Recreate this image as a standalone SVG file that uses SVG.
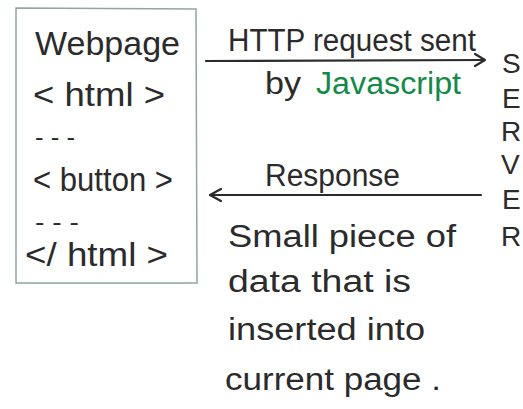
<svg xmlns="http://www.w3.org/2000/svg" width="523" height="409" viewBox="0 0 523 409">
  <defs>
    <style>
      .t { font-family: "Liberation Sans", "DejaVu Sans", sans-serif; fill: #2b2b2b; }
      .big { font-size: 34px; }
      .mid { font-size: 31px; }
      .dash { font-size: 24px; }
      .srv { font-size: 28px; }
      .green { fill: #138a48; }
      .line { stroke: #2b2b2b; stroke-width: 2.2; fill: none; stroke-linecap: round; stroke-linejoin: round; }
      .box { stroke: #8fa89a; stroke-width: 1.5; fill: none; }
    </style>
  </defs>
  <rect width="523" height="409" fill="#ffffff"/>

  <!-- webpage node -->
  <g id="webpage">
    <path class="box" d="M16,8 L196,9 L197,283 L16,283 Z"/>
    <text class="t big" x="35" y="55" textLength="145" lengthAdjust="spacingAndGlyphs">Webpage</text>
    <text class="t big" x="33" y="106" textLength="132" lengthAdjust="spacingAndGlyphs">&lt; html &gt;</text>
    <text class="t dash" x="35" y="145" textLength="40" lengthAdjust="spacingAndGlyphs">- - -</text>
    <text class="t big" x="33" y="191" textLength="140" lengthAdjust="spacingAndGlyphs">&lt; button &gt;</text>
    <text class="t dash" x="35" y="230" textLength="44" lengthAdjust="spacingAndGlyphs">- - -</text>
    <text class="t big" x="25" y="266" textLength="143" lengthAdjust="spacingAndGlyphs">&lt;/ html &gt;</text>
  </g>

  <!-- server node: vertical lettering -->
  <g id="server">
    <text class="t srv" x="502" y="73">S</text>
    <text class="t srv" x="502" y="108">E</text>
    <text class="t srv" x="501" y="141">R</text>
    <text class="t srv" x="501" y="174">V</text>
    <text class="t srv" x="502" y="209">E</text>
    <text class="t srv" x="501" y="246">R</text>
  </g>

  <!-- connectors -->
  <g id="connectors">
    <path class="line" d="M206,61 L484,60"/>
    <path class="line" d="M475,54 L485,60 L475,66"/>
    <path class="line" d="M210,195 L481,195"/>
    <path class="line" d="M221,189 L210,195 L221,201"/>
  </g>

  <!-- connector labels -->
  <g id="labels">
    <text class="t mid" x="228" y="51" textLength="248" lengthAdjust="spacingAndGlyphs">HTTP request sent</text>
    <text class="t mid" x="265" y="94" textLength="36" lengthAdjust="spacingAndGlyphs">by</text>
    <text class="t mid green" x="316" y="94" textLength="145" lengthAdjust="spacingAndGlyphs">Javascript</text>
    <text class="t mid" x="265" y="186" textLength="135" lengthAdjust="spacingAndGlyphs">Response</text>
    <text class="t mid" x="228" y="247" textLength="228" lengthAdjust="spacingAndGlyphs">Small piece of</text>
    <text class="t mid" x="228" y="292" textLength="183" lengthAdjust="spacingAndGlyphs">data that is</text>
    <text class="t mid" x="228" y="340" textLength="197" lengthAdjust="spacingAndGlyphs">inserted into</text>
    <text class="t mid" x="225" y="390" textLength="216" lengthAdjust="spacingAndGlyphs">current page .</text>
  </g>
</svg>
